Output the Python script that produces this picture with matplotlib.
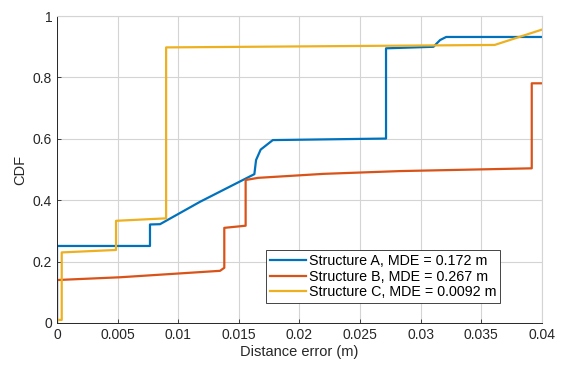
import matplotlib.pyplot as plt

a_x = [0.0, 0.0, 0.00767, 0.00767, 0.0085, 0.0118, 0.01628, 0.01642, 0.0168, 0.0178, 0.02714, 0.02714, 0.03105, 0.0316, 0.0321, 0.04]
a_y = [0.0, 0.251, 0.251, 0.321, 0.322, 0.395, 0.485, 0.531, 0.565, 0.596, 0.601, 0.895, 0.900, 0.922, 0.932, 0.932]

b_x = [0.0, 0.0, 0.0052, 0.01345, 0.0138, 0.0138, 0.01556, 0.01556, 0.0166, 0.022, 0.0283, 0.03916, 0.03916, 0.04]
b_y = [0.0, 0.14, 0.149, 0.170, 0.18, 0.31, 0.317, 0.466, 0.473, 0.486, 0.495, 0.504, 0.781, 0.781]

c_x = [0.0, 0.00039, 0.00039, 0.00487, 0.00487, 0.0090, 0.0090, 0.0361, 0.04]
c_y = [0.01, 0.01, 0.230, 0.238, 0.333, 0.341, 0.898, 0.906, 0.956]

labels = ["Structure A, MDE = 0.172 m", "Structure B, MDE = 0.267 m", "Structure C, MDE = 0.0092 m"]
colors = ["#0072BD", "#D95319", "#EDB120"]

xticks = [0, 0.005, 0.01, 0.015, 0.02, 0.025, 0.03, 0.035, 0.04]
xticklabels = ["0", "0.005", "0.01", "0.015", "0.02", "0.025", "0.03", "0.035", "0.04"]
yticks = [0, 0.2, 0.4, 0.6, 0.8, 1]
yticklabels = ["0", "0.2", "0.4", "0.6", "0.8", "1"]

plt.rcParams['font.family'] = ['Liberation Sans', 'DejaVu Sans']

fig = plt.figure(figsize=(5.61, 3.66), dpi=100)
ax = fig.add_axes([0.1016, 0.1175, 0.8644, 0.8385])

for xs, ys, lab, col in zip([a_x, b_x, c_x], [a_y, b_y, c_y], labels, colors):
    ax.plot(xs, ys, color=col, lw=1.6, label=lab)

ax.set_xlim(0, 0.04)
ax.set_ylim(0, 1)
ax.set_xticks(xticks)
ax.set_xticklabels(xticklabels)
ax.set_yticks(yticks)
ax.set_yticklabels(yticklabels)
ax.tick_params(direction='in', length=3, labelsize=10, colors='#262626', width=0.6)
ax.grid(True, color='#d4d4d4', lw=0.8)
ax.set_axisbelow(True)
for s in ['left', 'bottom']:
    ax.spines[s].set_color('#262626')
    ax.spines[s].set_linewidth(0.7)
for s in ['top', 'right']:
    ax.spines[s].set_color('#d4d4d4')
    ax.spines[s].set_linewidth(0.8)

ax.set_xlabel("Distance error (m)", fontsize=10.5, color='#262626', labelpad=2)
ax.set_ylabel("CDF", fontsize=10.5, color='#262626', labelpad=4)

leg = ax.legend(loc='lower right', bbox_to_anchor=(0.913, 0.065), fontsize=10.3,
                fancybox=False, framealpha=1, edgecolor='#262626',
                handlelength=2.5, handletextpad=0.2, labelspacing=0.12,
                borderpad=0.25, borderaxespad=0)
leg.get_frame().set_linewidth(0.6)

fig.savefig("out.png", dpi=100)
